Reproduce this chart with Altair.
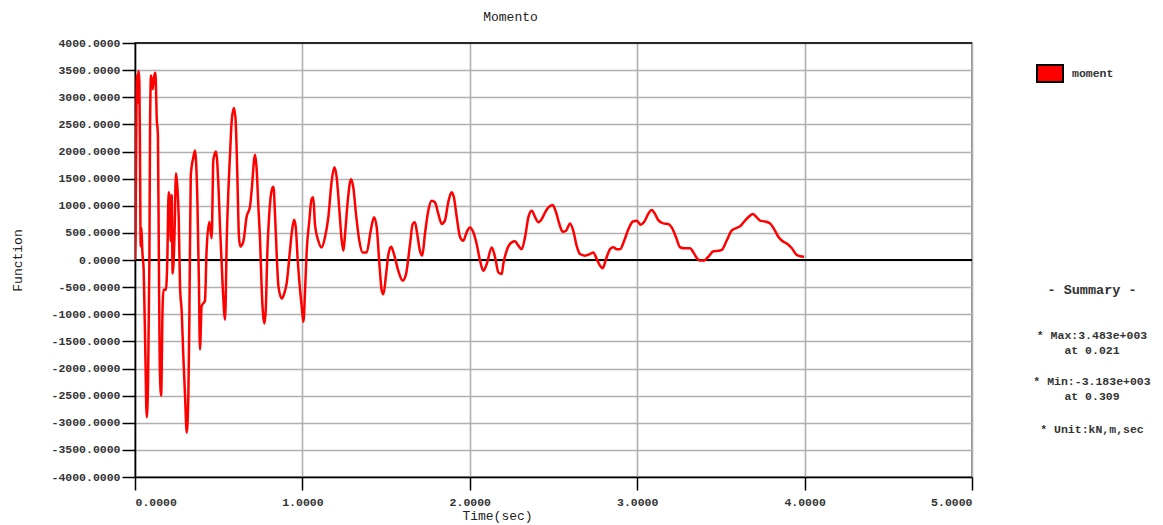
import altair as alt
import pandas as pd

# ---- data ----
time_s = [
    0.000, 0.003, 0.008, 0.012, 0.016, 0.021, 0.026, 0.030, 0.034, 0.038, 0.044,
    0.052, 0.062, 0.070, 0.078, 0.086, 0.090, 0.096, 0.106, 0.114, 0.122, 0.130,
    0.137, 0.143, 0.148, 0.156, 0.165, 0.170, 0.185, 0.193, 0.201, 0.209, 0.213,
    0.219, 0.225, 0.235, 0.245, 0.253, 0.261, 0.269, 0.279, 0.289, 0.299, 0.309,
    0.319, 0.325, 0.333, 0.349, 0.359, 0.365, 0.373, 0.382, 0.388, 0.398, 0.418,
    0.428, 0.444, 0.458, 0.468, 0.484, 0.498, 0.508, 0.524, 0.538, 0.548, 0.558,
    0.568, 0.578, 0.591, 0.601, 0.611, 0.621, 0.629, 0.647, 0.667, 0.687, 0.697,
    0.717, 0.727, 0.737, 0.747, 0.757, 0.773, 0.781, 0.791, 0.801, 0.817, 0.827,
    0.837, 0.847, 0.857, 0.877, 0.892, 0.906, 0.926, 0.936, 0.950, 0.960, 0.972,
    0.986, 0.996, 1.006, 1.016, 1.026, 1.040, 1.055, 1.065, 1.075, 1.095, 1.115,
    1.135, 1.155, 1.175, 1.191, 1.205, 1.221, 1.235, 1.245, 1.255, 1.271, 1.290,
    1.304, 1.320, 1.340, 1.360, 1.384, 1.408, 1.428, 1.444, 1.460, 1.474, 1.484,
    1.500, 1.514, 1.530, 1.547, 1.573, 1.599, 1.619, 1.643, 1.659, 1.672, 1.686,
    1.702, 1.716, 1.732, 1.752, 1.772, 1.792, 1.812, 1.832, 1.851, 1.871, 1.891,
    1.905, 1.922, 1.942, 1.961, 1.981, 2.001, 2.021, 2.041, 2.061, 2.081, 2.101,
    2.131, 2.151, 2.171, 2.191, 2.200, 2.220, 2.250, 2.270, 2.290, 2.310, 2.330,
    2.350, 2.370, 2.390, 2.410, 2.430, 2.450, 2.470, 2.495, 2.515, 2.535, 2.555,
    2.575, 2.599, 2.618, 2.638, 2.658, 2.688, 2.718, 2.738, 2.758, 2.778, 2.794,
    2.814, 2.838, 2.858, 2.878, 2.898, 2.922, 2.948, 2.974, 2.998, 3.020, 3.040,
    3.066, 3.086, 3.106, 3.126, 3.156, 3.186, 3.206, 3.232, 3.256, 3.286, 3.316,
    3.336, 3.360, 3.375, 3.399, 3.425, 3.455, 3.485, 3.505, 3.534, 3.564, 3.594,
    3.618, 3.644, 3.670, 3.690, 3.710, 3.734, 3.764, 3.794, 3.818, 3.843, 3.869,
    3.897, 3.923, 3.949, 3.973, 3.997,
]
moment = [
    0, 400, 2500, 3400, 2900, 3483, 3300, 1850, 250, 600, 150,
    -200, -1750, -2900, -2250, 0, 2500, 3400, 3150, 3380, 3450, 2600,
    2300, -200, -1950, -2500, -850, -550, -550, 0, 1250, 1100, 350,
    1200, -250, 350, 1600, 1350, 800, -500, -950, -1800, -2500, -3183,
    -2450, -1000, 1550, 1900, 2020, 1800, 1050, -450, -1650, -850, -750,
    200, 700, 400, 1850, 2000, 1400, 600, -500, -1100, 370, 1290,
    1970, 2580, 2800, 2580, 1600, 430, 250, 340, 800, 980, 1290,
    1940, 1660, 980, 370, -550, -1170, -920, 185, 800, 1290, 1350,
    800, 60, -490, -710, -615, -430, 185, 490, 740, 615, 0,
    -550, -860, -1140, -550, 185, 680, 1125, 1155, 660, 355, 230,
    420, 790, 1460, 1710, 1520, 910, 355, 170, 480, 1090, 1490,
    1340, 850, 355, 140, 140, 540, 790, 600, -75, -565, -630,
    -260, 110, 245, 110, -200, -380, -260, 295, 665, 695, 480,
    170, 80, 480, 910, 1090, 1060, 850, 665, 725, 1060, 1250,
    1155, 790, 420, 355, 510, 600, 510, 295, -10, -200, -75,
    230, 50, -230, -260, -75, 170, 325, 345, 265, 200, 420,
    790, 910, 790, 695, 755, 880, 970, 1015, 880, 665, 520,
    540, 675, 540, 265, 110, 80, 110, 140, 20, -105, -150,
    20, 200, 235, 200, 200, 355, 570, 710, 725, 650, 695,
    850, 920, 850, 735, 675, 665, 600, 420, 235, 215, 215,
    140, 20, -10, -10, 60, 160, 170, 185, 355, 540, 590,
    630, 725, 805, 850, 800, 725, 710, 675, 570, 430, 345,
    295, 220, 105, 70, 60,
]
x_ticks = [0, 1, 2, 3, 4, 5]
y_ticks = list(range(-4000, 4001, 500))
ref_lines = [0, 4000]
chart_title = "Momento"
x_title = "Time(sec)"
y_title = "Function"
series_name = "moment"
summary_lines = [
    "- Summary -",
    "* Max:3.483e+003",
    "at  0.021",
    "* Min:-3.183e+003",
    "at  0.309",
    "* Unit:kN,m,sec",
]

FONT = "Liberation Mono"
df = pd.DataFrame({"t": time_s, "v": moment})
rules_df = pd.DataFrame({"v": ref_lines, "w": [2.0, 1.5]})
one = pd.DataFrame({"k": [0]})

x_enc = alt.X(
    "t:Q",
    scale=alt.Scale(domain=[0, 5], nice=False, zero=False),
    axis=alt.Axis(
        values=x_ticks,
        grid=True,
        labelOverlap=False,
        labelExpr="format(datum.value, '.4f')",
        title=x_title,
        titleX=362, titleY=38, titleAlign="center", titleBaseline="middle",
        labelPadding=6,
    ),
)
y_enc = alt.Y(
    "v:Q",
    scale=alt.Scale(domain=[-4000, 4000], nice=False),
    axis=alt.Axis(
        values=y_ticks,
        tickCount=len(y_ticks),
        grid=True,
        labelOverlap=False,
        labelExpr="replace(format(datum.value, '.4f'), '\u2212', '-')",
        title=y_title,
        titleX=-118, titleY=217, titleAlign="center", titleBaseline="middle",
        labelPadding=2,
    ),
)

line = alt.Chart(df).mark_line(
    color="#ff0000", strokeWidth=2.5, clip=True, interpolate="monotone"
).encode(x=x_enc, y=y_enc)

rules = alt.Chart(rules_df).mark_rule(color="black").encode(
    y=y_enc, strokeWidth=alt.StrokeWidth("w:Q", scale=None, legend=None)
)

legend_box = alt.Chart(one).mark_rect(
    color="#ff0000", stroke="black", strokeWidth=2
).encode(x=alt.value(902), x2=alt.value(928), y=alt.value(22), y2=alt.value(39))
legend_text = alt.Chart(one).mark_text(
    align="left", baseline="middle", font=FONT, fontSize=11.5, fontWeight="bold",
    color="#333",
).encode(x=alt.value(937), y=alt.value(31), text=alt.value(series_name))

summary_y = [247, 293, 308, 339, 354, 387]
summary_layers = []
for i, (txt, yy) in enumerate(zip(summary_lines, summary_y)):
    summary_layers.append(
        alt.Chart(one).mark_text(
            align="center", baseline="middle", font=FONT,
            fontSize=13.5 if i == 0 else 11.5, fontWeight="bold", color="#333",
        ).encode(x=alt.value(957), y=alt.value(yy), text=alt.value(txt))
    )

chart = alt.layer(
    rules, line, legend_box, legend_text, *summary_layers
).properties(
    width=837,
    height=434,
    title=alt.TitleParams(
        chart_title, font=FONT, fontSize=13, fontWeight="normal", color="#222",
        anchor="middle", dx=-43, offset=13,
    ),
    autosize=alt.AutoSizeParams(type="none"),
    padding={"left": 127, "top": 35, "right": 183, "bottom": 50},
).configure_view(
    stroke="#666", strokeWidth=1.5
).configure_axis(
    labelFont=FONT, labelFontSize=11.5, labelColor="#333", labelFontWeight="bold",
    titleFont=FONT, titleFontSize=13, titleFontWeight="normal", titleColor="#222",
    gridColor="#b0b0b0", gridWidth=1.6,
    domainColor="black", domainWidth=1.5,
    tickColor="black", tickWidth=1.5, tickSize=13,
)

chart.save("out.html", embed_options={"renderer": "svg", "actions": False})
